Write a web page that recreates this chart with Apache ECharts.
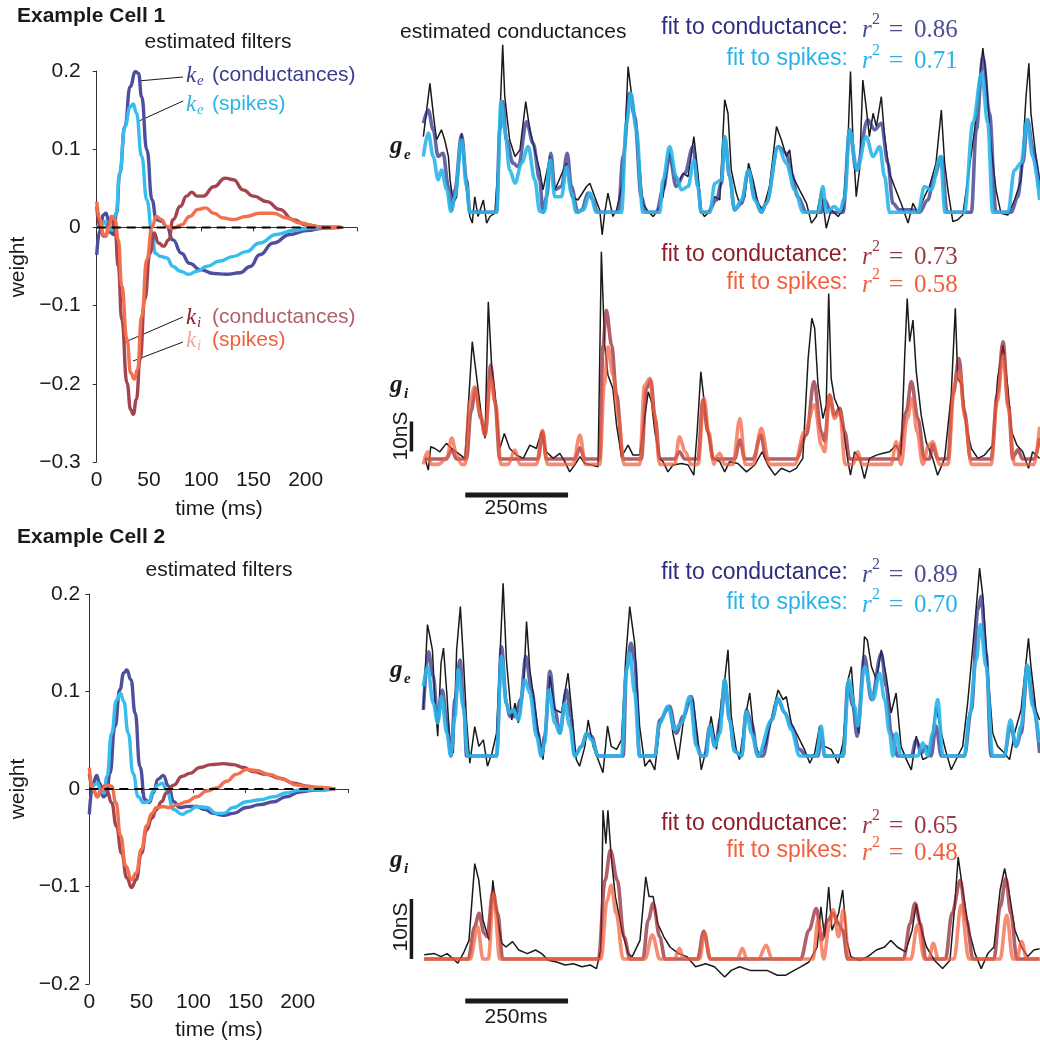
<!DOCTYPE html>
<html>
<head>
<meta charset="utf-8">
<script src="https://cdn.jsdelivr.net/npm/echarts@6/dist/echarts.min.js"></script>
<style>
html,body{margin:0;padding:0;background:#fff}
#chart{width:1040px;height:1044px}
</style>
</head>
<body>
<div id="chart"></div>
<script>
// ---- estimated filters, [time ms, weight] ----
var cell1KeCond = [[0,-0.035],[3.2,-0.003],[6.4,0.016],[8.9,0.018],[11.2,0.010],[13.7,-0.007],[16,-0.009],[19,0.018],[22,0.069],[27,0.129],[32,0.180],[37,0.199],[40,0.197],[43,0.167],[48,0.099],[53,0.035],[57,0.010],[62,0.008],[67,0.001],[73,-0.016],[81,-0.033],[89,-0.046],[99,-0.054],[112,-0.059],[124,-0.060],[137,-0.058],[147,-0.050],[156,-0.035],[169,-0.020],[185,-0.009],[201,-0.004],[217,-0.001],[234,0]];
var cell1KeSpk = [[0,0],[4.8,0.003],[8,0.008],[10,0.001],[13,-0.003],[15,-0.003],[18.5,0.018],[22,0.069],[27,0.129],[32,0.154],[35,0.158],[38,0.146],[43,0.091],[48,0.035],[53,-0.007],[56,-0.033],[61,-0.037],[67,-0.039],[73,-0.050],[80,-0.056],[88,-0.060],[96,-0.056],[105,-0.050],[118,-0.043],[131,-0.037],[143,-0.031],[156,-0.020],[172,-0.009],[188,-0.004],[204,-0.001],[234,0]];
var cell1KiCond = [[0,0.027],[3.2,0.001],[6.4,-0.011],[8.9,-0.011],[11.8,0.006],[14.4,0.014],[17.5,-0.003],[20.7,-0.050],[24,-0.118],[29,-0.199],[32.5,-0.233],[35,-0.239],[38,-0.220],[41.5,-0.169],[46,-0.092],[51,-0.033],[55,-0.007],[59,-0.020],[64,-0.024],[69,-0.016],[73,0.010],[80,0.027],[86,0.040],[91,0.045],[96,0.040],[102,0.040],[112,0.052],[123,0.063],[131,0.061],[140,0.048],[150,0.040],[163,0.033],[175,0.023],[188,0.010],[201,0.003],[217,0.0004],[234,0]];
var cell1KiSpk = [[0,0.033],[3.2,0.010],[6.4,-0.009],[8.9,-0.011],[11.8,0.001],[14.4,0.014],[17.5,0.010],[20.7,-0.016],[24,-0.075],[29,-0.143],[32.5,-0.186],[36,-0.194],[39,-0.182],[43,-0.114],[48,-0.041],[53,0.001],[57,0.014],[62,0.010],[67,0.001],[73,-0.001],[81,0.003],[89,0.014],[97,0.023],[104,0.025],[112,0.018],[121,0.012],[131,0.010],[143,0.014],[156,0.018],[169,0.018],[182,0.012],[194,0.006],[211,0.001],[234,0]];

var cell2KeCond = [[0,-0.026],[3.2,0.003],[7,0.014],[10,0.006],[13.4,-0.008],[16.6,-0.006],[19.8,0.016],[24.6,0.064],[29.4,0.102],[33,0.119],[36,0.122],[40,0.112],[44,0.078],[48.6,0.023],[53.4,-0.011],[57.6,-0.014],[61.4,-0.004],[66,0.010],[71,0.014],[76,0.003],[81,-0.013],[87,-0.019],[93.4,-0.018],[103,-0.018],[111,-0.021],[119,-0.025],[129,-0.027],[138,-0.025],[151,-0.019],[164,-0.016],[177,-0.013],[189,-0.008],[202,-0.003],[218,-0.001],[236,0]];
var cell2KeSpk = [[0,0.003],[3.8,0.004],[7.7,0.006],[11,-0.002],[14,-0.004],[17,0.013],[21.4,0.057],[26,0.091],[30,0.098],[33,0.090],[37.4,0.057],[42,0.016],[47,-0.008],[52,-0.014],[57,-0.013],[61.4,-0.002],[66,0.004],[70,0.006],[74,-0.001],[81,-0.021],[89,-0.026],[95,-0.023],[103,-0.018],[113,-0.019],[122,-0.025],[129,-0.025],[138,-0.019],[151,-0.013],[164,-0.011],[177,-0.008],[189,-0.004],[202,-0.001],[236,0]];
var cell2KiCond = [[0,0.016],[3.8,-0.001],[7.7,-0.008],[11,-0.002],[14,0.003],[17,-0.002],[21.4,-0.014],[26,-0.038],[31,-0.066],[36,-0.091],[40.6,-0.101],[45,-0.093],[50,-0.066],[55,-0.042],[60,-0.030],[64.6,-0.021],[69.4,-0.013],[74,-0.004],[81,0.004],[89,0.013],[96.6,0.016],[106,0.022],[117,0.025],[129,0.026],[138,0.025],[148,0.022],[157,0.018],[170,0.015],[183,0.011],[196,0.006],[209,0.003],[221,0.001],[236,0]];
var cell2KiSpk = [[0,0.022],[3.8,-0.001],[7.7,-0.008],[12,-0.001],[16.6,0.004],[21.4,0.003],[25.6,-0.014],[30,-0.048],[35,-0.079],[40.6,-0.093],[45,-0.086],[50,-0.062],[55,-0.038],[60,-0.025],[64.6,-0.019],[71,-0.018],[77,-0.019],[85,-0.016],[93.4,-0.013],[103,-0.008],[113,-0.002],[122,0.001],[132,0.008],[141,0.015],[151,0.020],[160,0.019],[173,0.015],[186,0.010],[199,0.004],[212,0.002],[236,0]];
var zeroLine = [[0,0],[236,0]];

// ---- estimated conductances, [time ms, nS] ----
var cell1GeRec = [[0,25.2],[16,43.0],[24,33.0],[32,24.1],[44,27.5],[52,24.1],[61,18.6],[65,10.8],[73,3.0],[81,5.2],[93,26.4],[105,7.5],[113,-1.4],[119,-3.6],[125,5.2],[133,-1.4],[146,4.1],[154,-3.6],[162,-1.4],[174,-0.3],[182,16.4],[193,55.8],[198,38.6],[210,24.1],[223,18.6],[235,20.8],[249,36.9],[259,27.5],[271,20.8],[283,14.1],[291,7.5],[308,18.6],[320,7.5],[348,16.4],[360,5.2],[376,4.1],[397,8.6],[405,9.7],[417,5.2],[429,0.8],[435,-7.5],[441,-0.3],[449,6.4],[461,-1.4],[470,0.8],[486,10.8],[498,48.6],[506,39.7],[514,33.0],[526,16.4],[534,3.0],[547,0.2],[559,-1.4],[571,0.8],[583,5.2],[599,20.8],[607,14.1],[620,9.7],[632,13.0],[644,11.9],[658,25.2],[668,13.0],[676,0.2],[684,-1.4],[692,-0.3],[709,5.2],[721,4.1],[733,37.5],[741,33.0],[749,14.1],[761,6.4],[769,3.0],[782,5.2],[791,16.4],[802,10.8],[814,3.0],[826,0.8],[842,8.6],[859,28.6],[871,24.1],[883,18.6],[891,20.8],[899,11.9],[915,7.5],[932,3.0],[944,-3.6],[956,-1.4],[968,7.5],[980,-5.3],[992,0.8],[1009,-1.4],[1021,0.8],[1033,24.1],[1039,46.9],[1045,24.1],[1053,5.2],[1061,14.1],[1069,44.1],[1077,35.2],[1085,25.2],[1094,33.0],[1102,28.6],[1114,38.6],[1122,25.2],[1134,13.0],[1146,8.6],[1162,3.0],[1179,-3.6],[1191,3.0],[1203,-0.3],[1219,5.2],[1231,8.6],[1247,16.4],[1260,34.1],[1268,16.4],[1276,7.5],[1288,-3.1],[1300,-2.5],[1312,-0.9],[1324,10.8],[1341,27.5],[1353,44.1],[1361,54.7],[1369,45.2],[1381,22.0],[1393,7.5],[1405,-0.3],[1422,-0.9],[1438,4.1],[1454,10.8],[1466,38.6],[1473,49.7],[1478,33.0],[1490,18.6],[1499,10.8]];
var cell1GeFitCond = [[0,29.7],[12,34.1],[24,27.5],[36,18.6],[48,19.7],[61,8.6],[69,0.8],[77,7.5],[93,25.8],[105,10.8],[113,0],[178,0],[186,27.5],[193,36.9],[202,24.1],[218,16.4],[231,15.2],[251,30.2],[267,23.0],[283,10.8],[291,0],[300,5.2],[310,19.7],[320,7.5],[336,8.6],[350,19.7],[360,8.6],[376,0],[385,0.8],[401,6.4],[413,4.1],[423,0],[474,0],[486,18.6],[502,39.7],[514,31.9],[530,5.2],[542,0],[567,0],[583,7.5],[599,18.6],[615,8.6],[636,13.0],[656,21.9],[668,8.6],[676,0],[692,0],[713,4.1],[725,9.7],[733,25.2],[745,11.9],[757,0.8],[774,3.0],[791,14.1],[806,5.2],[822,0],[834,3.0],[863,21.9],[883,19.7],[895,13.0],[911,5.2],[932,0],[968,0],[976,4.1],[992,0],[1021,0],[1037,27.5],[1053,14.1],[1081,30.8],[1098,27.5],[1114,29.7],[1130,16.4],[1142,3.0],[1158,0.8],[1187,0.8],[1207,0],[1227,4.1],[1243,11.9],[1260,18.6],[1274,0],[1333,0],[1345,27.5],[1361,51.9],[1377,33.0],[1393,0],[1430,0],[1446,5.2],[1458,16.4],[1470,30.8],[1482,21.9],[1499,7.5]];
var cell1GeFitSpk = [[0,18.6],[12,26.4],[24,18.6],[36,10.8],[44,14.1],[57,7.5],[67,0.3],[77,5.2],[93,24.1],[105,8.6],[113,0],[178,0],[189,36.9],[198,27.5],[210,14.1],[223,9.7],[239,16.4],[255,21.9],[271,10.8],[283,0.3],[295,0.3],[308,17.5],[320,5.2],[336,5.2],[348,15.2],[360,6.4],[372,0],[389,0.8],[405,6.4],[421,0],[482,0],[494,29.7],[505,39.7],[518,27.5],[534,0],[575,0],[583,10.8],[599,21.9],[615,11.9],[628,7.5],[644,8.6],[658,17.5],[668,8.6],[676,0],[697,0],[709,9.7],[725,10.8],[733,25.2],[745,11.9],[757,0.8],[774,4.1],[791,14.1],[806,4.1],[822,0],[834,3.0],[863,21.9],[883,16.4],[903,7.5],[924,0],[960,0],[972,8.6],[980,0],[1000,1.9],[1013,0.3],[1025,5.2],[1037,27.5],[1055,14.1],[1077,25.2],[1094,18.6],[1110,21.9],[1122,11.9],[1134,0],[1203,0],[1219,8.6],[1235,7.5],[1258,18.6],[1269,0],[1316,0],[1337,29.9],[1358,46.4],[1373,29.7],[1385,0],[1422,0],[1438,14.1],[1454,16.4],[1469,30.8],[1482,18.6],[1499,4.1]];

var cell1GiRec = [[4,0.2],[12,-3.7],[18,4.1],[28,3.5],[40,2.4],[56,5.2],[69,3.5],[85,1.9],[101,0.2],[111,21.3],[119,39.1],[125,32.4],[132,24.6],[142,13.5],[150,6.9],[158,52.4],[166,31.3],[174,22.4],[186,3.5],[197,8.5],[210,3.5],[227,1.3],[243,0.2],[259,4.6],[275,3.5],[287,9.1],[299,2.4],[316,0.2],[332,1.9],[344,-0.9],[356,-4.3],[368,-2.0],[381,0.8],[393,-1.5],[409,-2.0],[425,-2.6],[433,69.1],[441,38.0],[449,28.0],[461,23.5],[470,11.3],[482,0.8],[498,4.6],[510,1.3],[526,1.3],[538,13.5],[547,22.4],[555,19.1],[563,9.1],[575,0.2],[583,-0.9],[595,-4.3],[607,-2.0],[628,-1.5],[644,-2.0],[658,-5.4],[666,9.1],[675,29.1],[683,19.1],[692,9.1],[705,0.2],[721,-0.9],[733,-4.3],[745,-0.9],[765,-1.5],[786,-4.3],[806,-2.0],[824,2.4],[838,-2.0],[855,-5.4],[871,-3.1],[891,-4.3],[907,-3.1],[923,0.2],[936,33.5],[945,46.9],[952,43.5],[960,24.6],[972,13.5],[980,17.9],[986,55.2],[992,26.9],[1000,20.2],[1010,16.9],[1021,10.2],[1033,-0.9],[1039,-5.4],[1049,2.4],[1061,0.2],[1073,-6.5],[1085,0.2],[1102,1.3],[1118,1.9],[1134,2.4],[1150,4.6],[1162,1.3],[1171,34.6],[1177,53.5],[1183,39.1],[1191,46.3],[1199,29.1],[1211,14.6],[1223,5.7],[1239,0.2],[1251,-5.4],[1268,0.2],[1284,21.3],[1294,50.2],[1300,26.9],[1310,24.6],[1320,11.3],[1333,3.5],[1349,0.2],[1365,1.3],[1385,4.6],[1397,26.9],[1410,38.0],[1422,23.5],[1431,9.1],[1444,4.6],[1458,2.4],[1472,-3.1],[1482,2.4],[1499,0.2]];
var cell1GiFitCond = [[4,0],[56,0],[69,3.1],[81,0],[105,0],[116,15.9],[127,23.5],[140,13.5],[150,8.0],[164,31.3],[174,19.1],[186,0],[279,0],[290,9.1],[299,0],[368,0],[381,3.7],[393,0],[429,0],[437,38.0],[445,49.6],[458,38.0],[470,21.3],[486,0],[530,0],[543,23.5],[553,26.3],[564,13.5],[575,0],[611,0],[623,2.4],[636,0],[668,0],[680,19.6],[692,9.1],[705,0],[757,0],[770,6.3],[782,0],[802,0],[821,8.0],[834,0],[907,0],[932,8.0],[950,25.8],[968,9.1],[976,6.0],[988,21.3],[1000,14.6],[1013,16.9],[1025,9.1],[1037,0],[1154,0],[1175,15.9],[1187,25.8],[1203,13.5],[1219,0],[1231,0],[1239,4.8],[1251,0],[1276,0],[1288,21.3],[1303,33.5],[1316,15.9],[1331,0],[1381,0],[1396,21.3],[1410,39.1],[1423,18.0],[1434,0],[1438,1.4],[1446,3.1],[1458,0],[1486,0],[1499,7.0]];
var cell1GiFitSpk = [[0,-1.8],[10,2.4],[20,-1.8],[36,-1.8],[57,0.3],[69,7.0],[81,1.3],[93,-1.8],[101,-1.8],[113,19.1],[125,24.1],[137,15.7],[150,8.0],[164,26.9],[176,18.0],[189,-1.8],[206,-1.8],[223,3.0],[235,-1.8],[275,-1.8],[290,9.6],[302,-1.8],[364,-1.8],[381,8.0],[394,-1.8],[429,-1.8],[440,24.6],[449,37.4],[461,28.0],[474,14.6],[488,-1.8],[526,-1.8],[538,24.6],[551,26.9],[561,15.7],[575,-1.8],[611,-1.8],[623,7.4],[637,2.4],[652,-1.8],[668,-1.8],[683,20.2],[694,9.1],[707,-1.8],[713,0.8],[721,1.9],[733,-1.8],[753,-1.8],[770,13.5],[783,-1.8],[802,-1.8],[822,10.2],[842,-1.8],[903,-1.8],[927,9.1],[952,18.0],[968,4.6],[976,2.4],[988,21.3],[1000,13.5],[1013,15.7],[1026,-1.8],[1045,-1.8],[1057,2.4],[1067,-1.8],[1138,-1.8],[1150,5.7],[1162,-1.8],[1177,13.5],[1189,20.2],[1201,9.1],[1215,-1.8],[1229,4.6],[1239,5.7],[1256,-1.8],[1276,-1.8],[1292,24.6],[1304,29.1],[1318,13.5],[1333,-1.8],[1381,-1.8],[1396,19.1],[1410,34.6],[1423,16.9],[1438,-1.8],[1486,-1.8],[1499,10.8]];

var cell2GeRec = [[0,7.7],[10,21.9],[16,19.9],[22,17.7],[28,9.4],[35,3.3],[43,15.5],[49,18.0],[57,10.5],[65,1.6],[73,0.5],[81,17.7],[90,24.9],[97,16.6],[105,6.0],[113,-1.2],[125,4.9],[135,1.6],[146,2.7],[156,-1.7],[167,0.5],[178,3.8],[186,16.0],[194,28.8],[202,16.0],[215,6.0],[223,8.8],[231,5.5],[243,10.5],[251,22.4],[259,14.4],[267,10.5],[279,4.4],[291,-0.6],[300,6.0],[308,13.3],[320,7.7],[336,7.2],[352,13.8],[362,6.6],[372,-0.6],[380,-1.7],[393,1.6],[401,6.0],[413,1.6],[425,-0.6],[437,-2.8],[448,5.0],[457,1.6],[470,1.1],[482,2.7],[492,16.0],[502,24.9],[514,18.8],[526,5.0],[539,-1.7],[551,-0.6],[563,-2.3],[575,5.0],[587,7.2],[599,8.3],[607,3.8],[620,-0.6],[632,5.5],[644,8.8],[656,9.4],[667,3.3],[676,-2.3],[688,1.1],[700,6.6],[713,1.1],[725,9.4],[733,12.7],[741,17.7],[749,6.6],[761,1.1],[769,-0.6],[782,6.0],[794,10.5],[806,2.2],[818,0],[834,2.2],[851,7.7],[863,11.0],[875,9.4],[883,9.9],[895,5.5],[911,3.3],[927,1.1],[940,-1.2],[952,0.5],[964,5.0],[976,1.6],[992,1.1],[1009,-1.2],[1021,2.2],[1033,12.7],[1041,14.9],[1049,7.7],[1059,3.8],[1073,19.9],[1080,19.3],[1090,14.9],[1102,12.7],[1114,17.7],[1126,13.3],[1138,7.2],[1150,10.5],[1162,1.6],[1175,-0.6],[1187,-2.3],[1199,3.3],[1215,-0.6],[1231,0],[1247,8.3],[1260,3.8],[1272,0.5],[1284,-2.3],[1300,0],[1312,1.6],[1324,8.8],[1341,21.6],[1353,31.3],[1361,26.6],[1373,14.4],[1385,3.8],[1397,1.6],[1413,0.5],[1426,-0.6],[1438,3.8],[1454,7.7],[1472,19.6],[1478,14.9],[1490,7.7],[1499,6.0]];
var cell2GeFitCond = [[0,7.7],[12,17.4],[24,13.3],[35,6.0],[46,11.0],[57,6.0],[67,0],[77,9.4],[89,16.0],[99,7.7],[105,0],[178,0],[190,18.2],[202,8.8],[210,6.6],[223,6.6],[237,9.4],[249,16.6],[263,11.1],[279,3.8],[287,0],[295,3.3],[308,14.1],[320,7.7],[332,3.8],[348,11.0],[359,6.6],[368,0],[385,1.6],[397,3.8],[409,3.3],[425,0],[486,0],[494,14.4],[505,18.8],[514,16.0],[526,0],[563,0],[575,6.0],[599,8.3],[615,3.8],[632,6.6],[652,9.9],[667,1.6],[675,0],[684,0],[697,5.0],[709,1.6],[725,6.6],[733,12.7],[745,6.0],[757,0.8],[774,0],[786,7.7],[798,5.5],[814,0],[826,0],[847,6.0],[863,9.4],[879,7.2],[895,5.0],[915,1.1],[932,0],[960,0],[968,3.8],[976,0],[1021,0],[1033,12.2],[1045,8.3],[1055,3.3],[1073,16.6],[1090,9.4],[1114,17.1],[1126,11.6],[1138,3.8],[1154,0],[1187,0],[1199,2.7],[1211,0.5],[1223,1.6],[1235,0],[1247,5.0],[1260,0],[1316,0],[1333,7.7],[1349,24.4],[1357,26.6],[1369,17.1],[1381,0],[1413,0],[1428,5.0],[1442,1.6],[1454,3.8],[1470,14.9],[1482,9.4],[1499,0.5]];
var cell2GeFitSpk = [[0,11.6],[10,14.9],[24,8.8],[35,5.5],[44,9.9],[57,3.8],[67,0],[77,6.6],[85,14.4],[97,8.3],[108,0],[178,0],[190,16.6],[202,8.8],[210,7.2],[219,7.7],[231,6.0],[247,12.7],[259,10.5],[275,3.3],[287,0],[295,2.2],[305,11.0],[320,5.5],[332,3.8],[344,8.8],[356,5.0],[368,0],[385,1.6],[397,3.8],[409,2.7],[425,0],[482,0],[494,14.4],[502,17.1],[514,10.5],[526,0],[563,0],[575,5.5],[595,8.3],[611,4.4],[628,5.5],[648,9.9],[664,1.6],[675,0],[688,0],[697,5.0],[709,1.6],[721,3.8],[733,12.7],[745,6.0],[757,0.8],[774,0],[786,7.4],[798,3.8],[814,0],[847,6.0],[863,9.6],[879,7.2],[895,4.4],[915,0],[956,0],[968,5.0],[976,0],[1021,0],[1035,12.7],[1049,8.3],[1057,5.0],[1073,14.9],[1094,9.4],[1110,13.8],[1122,9.4],[1134,3.8],[1142,0],[1150,3.8],[1162,0],[1203,0],[1215,2.2],[1227,0],[1239,3.8],[1251,9.4],[1264,0],[1316,0],[1328,6.6],[1345,16.0],[1355,21.9],[1369,14.9],[1385,0],[1413,0],[1428,6.0],[1442,1.6],[1454,5.0],[1469,15.2],[1482,8.3],[1499,2.2]];

var cell2GiRec = [[2,0.7],[27,0.9],[43,0.4],[58,0.9],[84,-0.7],[99,1.2],[111,3.1],[125,15.9],[135,13.1],[145,6.5],[160,3.1],[169,13.1],[181,6.5],[191,2.6],[201,2.0],[217,2.9],[232,1.5],[253,0.9],[273,1.5],[288,0.9],[304,-0.2],[324,-0.5],[345,-1.0],[365,-0.8],[386,-1.3],[406,-1.0],[421,-1.6],[432,1.5],[437,24.8],[444,19.2],[449,24.8],[457,17.0],[467,10.4],[483,4.8],[498,0.9],[508,0.4],[527,3.1],[541,13.7],[549,10.4],[559,10.4],[570,5.9],[585,3.7],[600,2.0],[621,0.9],[641,0.4],[662,-1.3],[687,-0.8],[708,-1.3],[733,-3.0],[749,-1.9],[769,-1.3],[795,-1.9],[815,-1.9],[836,-1.9],[861,-2.7],[882,-2.7],[902,-1.9],[918,-1.3],[938,-0.5],[958,2.0],[967,8.7],[976,3.7],[986,12.0],[994,4.8],[1010,7.6],[1020,11.5],[1030,3.1],[1040,0.4],[1061,-0.2],[1081,0.4],[1102,1.5],[1122,2.0],[1137,3.1],[1153,2.0],[1173,1.2],[1189,4.8],[1199,9.2],[1209,5.4],[1224,2.0],[1243,-0.2],[1263,-1.6],[1281,-0.2],[1291,7.6],[1301,17.0],[1311,12.0],[1327,4.8],[1342,0.9],[1357,-1.6],[1373,0.9],[1388,2.0],[1403,11.5],[1414,15.1],[1424,11.5],[1439,4.8],[1455,2.0],[1470,0.4],[1485,1.5],[1499,1.7]];
var cell2GiFitCond = [[2,0],[109,0],[125,5.4],[135,7.6],[148,4.3],[155,3.7],[169,11.2],[181,7.6],[193,0],[426,0],[442,13.1],[455,18.1],[472,13.1],[488,3.7],[503,0],[534,0],[547,6.5],[559,9.3],[575,3.7],[588,0],[667,0],[682,4.6],[698,0],[918,0],[938,4.8],[956,8.4],[969,3.2],[984,6.5],[997,7.6],[1010,5.9],[1020,4.8],[1032,0],[1168,0],[1184,5.9],[1196,9.3],[1209,5.9],[1222,0],[1270,0],[1286,7.6],[1306,13.1],[1321,6.5],[1337,0],[1388,0],[1403,8.7],[1417,13.4],[1429,7.6],[1444,0],[1499,0]];
var cell2GiFitSpk = [[2,0],[114,0],[132,5.4],[145,0],[158,0],[171,10.9],[186,0],[432,0],[447,9.8],[457,12.3],[469,7.6],[486,0],[539,0],[557,4.0],[575,0],[611,0],[623,1.8],[633,0],[672,0],[684,4.3],[698,0],[764,0],[776,1.8],[787,0],[815,0],[834,2.3],[848,0],[948,0],[960,6.5],[974,0],[987,5.4],[997,8.2],[1010,3.7],[1022,8.2],[1035,0],[1186,0],[1202,5.7],[1219,0],[1230,0],[1240,2.6],[1253,0],[1291,0],[1308,9.0],[1327,0],[1403,0],[1419,7.3],[1434,0],[1444,0],[1455,2.9],[1468,0],[1499,0]];

// scale bars: 10 nS and 250 ms
var cell1BarNs = [[-29,2.5],[-29,12.5]];
var cell1BarMs = [[102,-12],[352,-12]];
var cell2BarNs = [[-29,0],[-29,10]];
var cell2BarMs = [[102,-7],[352,-7]];

var sans = "'Liberation Sans', Arial, sans-serif";
var serif = "'Liberation Serif', 'Times New Roman', serif";
var ink = '#1a1a1a';
var cKeCond = '#4e4f9c', cKeSpk = '#35bdee', cKiCond = '#a4444f', cKiSpk = '#f2704e';

function txt(x, y, s, size, color, o) {
  o = o || {};
  return {
    type: 'text', x: x, y: y, rotation: o.rot || 0, silent: true,
    style: {
      text: s, fill: color,
      font: (o.style || 'normal') + ' ' + (o.weight || 'normal') + ' ' + size + 'px ' + (o.family || sans),
      align: o.align || 'left', verticalAlign: 'middle'
    }
  };
}
function seg(x1, y1, x2, y2, w) {
  return {type: 'line', silent: true, shape: {x1: x1, y1: y1, x2: x2, y2: y2}, style: {stroke: ink, lineWidth: w || 1}};
}
function kLabel(y, sub, rest, ck, cr) {
  return [
    txt(186, y + 1, 'k', 23, ck, {style: 'italic', family: serif}),
    txt(197, y + 6, sub, 15, ck, {style: 'italic', family: serif}),
    txt(212, y, rest, 21, cr)
  ];
}
function fitLabel(y, name, val, ct, cr) {
  return [
    txt(848, y, name, 23, ct, {align: 'right'}),
    txt(862, y + 2, 'r', 25, cr, {style: 'italic', family: serif}),
    txt(872, y - 8, '2', 16, cr, {family: serif}),
    txt(896, y + 2, '=', 26, cr, {family: serif, align: 'center'}),
    txt(914, y + 2, val, 25, cr, {family: serif})
  ];
}
function gLabel(y, sub) {
  return [
    txt(390, y, 'g', 25, ink, {style: 'italic', weight: 'bold', family: serif}),
    txt(404, y + 8, sub, 15, ink, {style: 'italic', weight: 'bold', family: serif})
  ];
}

function fmtW(v) {
  if (Math.abs(v) < 1e-9) return '0';
  return (v < 0 ? '\u2212' : '') + Math.abs(v).toFixed(1);
}
function filterX(idx) {
  return {
    type: 'value', gridIndex: idx, min: 0, max: 249, interval: 50,
    axisLine: {lineStyle: {color: '#333', width: 1}},
    axisTick: {inside: false, length: 4, lineStyle: {color: '#333'}},
    splitLine: {show: false},
    axisLabel: {color: ink, fontSize: 21, fontFamily: sans, margin: 8,
      formatter: function (v) { return v > 200 ? '' : String(v); }}
  };
}
function filterY(idx, min, max, margin) {
  return {
    type: 'value', gridIndex: idx, min: min, max: max, interval: 0.1,
    axisLine: {show: true, lineStyle: {color: '#333', width: 1}},
    axisTick: {show: true, inside: false, length: 4, lineStyle: {color: '#333'}},
    splitLine: {show: false},
    axisLabel: {color: ink, fontSize: 21, fontFamily: sans, margin: margin, formatter: fmtW}
  };
}
function hiddenX(idx) {
  return {type: 'value', gridIndex: idx, min: -50, max: 1500, show: false};
}
function hiddenY(idx, min, max) {
  return {type: 'value', gridIndex: idx, min: min, max: max, show: false};
}
function curve(idx, data, color, width, opacity, smooth) {
  return {
    type: 'line', xAxisIndex: idx, yAxisIndex: idx, data: data,
    showSymbol: false, smooth: smooth, smoothMonotone: 'x', silent: true,
    lineStyle: {color: color, width: width, opacity: opacity}
  };
}
function dashed(idx) {
  return {
    type: 'line', xAxisIndex: idx, yAxisIndex: idx, data: zeroLine, showSymbol: false, silent: true, z: 5,
    lineStyle: {color: '#000', width: 2, type: [9, 6]}
  };
}

var graphics = [].concat(
  [
    txt(17, 16, 'Example Cell 1', 21, ink, {weight: 'bold'}),
    txt(218, 42, 'estimated filters', 21, ink, {align: 'center'}),
    txt(18, 267, 'weight', 21, ink, {align: 'center', rot: Math.PI / 2}),
    txt(219, 509, 'time (ms)', 21, ink, {align: 'center'}),
    txt(17, 537, 'Example Cell 2', 21, ink, {weight: 'bold'}),
    txt(219, 570, 'estimated filters', 21, ink, {align: 'center'}),
    txt(18, 789, 'weight', 21, ink, {align: 'center', rot: Math.PI / 2}),
    txt(219, 1030, 'time (ms)', 21, ink, {align: 'center'}),
    txt(400, 32, 'estimated conductances', 21, ink),
    seg(138, 81, 183, 77), seg(139, 121, 183, 101), seg(123, 343, 183, 317), seg(133, 361, 183, 342),
    txt(401, 436, '10nS', 21, ink, {align: 'center', rot: Math.PI / 2}),
    txt(516, 508, '250ms', 21, ink, {align: 'center'}),
    txt(401, 927, '10nS', 21, ink, {align: 'center', rot: Math.PI / 2}),
    txt(516, 1017, '250ms', 21, ink, {align: 'center'})
  ],
  kLabel(75, 'e', '(conductances)', '#3b3c8e', '#3b3c8e'),
  kLabel(104, 'e', '(spikes)', '#2ab5e8', '#2ab5e8'),
  kLabel(317, 'i', '(conductances)', '#8e1f2b', '#b0606a'),
  kLabel(340, 'i', '(spikes)', '#f7a58e', '#f05f3e'),
  fitLabel(28, 'fit to conductance:', '0.86', '#2d2e7e', '#4c4d92'),
  fitLabel(59, 'fit to spikes:', '0.71', '#29b3e8', '#29b3e8'),
  fitLabel(255, 'fit to conductance:', '0.73', '#8d1d27', '#9a3b45'),
  fitLabel(283, 'fit to spikes:', '0.58', '#f2603e', '#f2603e'),
  fitLabel(573, 'fit to conductance:', '0.89', '#2d2e7e', '#4c4d92'),
  fitLabel(603, 'fit to spikes:', '0.70', '#29b3e8', '#29b3e8'),
  fitLabel(824, 'fit to conductance:', '0.65', '#8d1d27', '#9a3b45'),
  fitLabel(851, 'fit to spikes:', '0.48', '#f2603e', '#f2603e'),
  gLabel(147, 'e'), gLabel(386, 'i'), gLabel(671, 'e'), gLabel(861, 'i')
);

var option = {
  animation: false,
  backgroundColor: '#fff',
  grid: [
    {left: 96.7, top: 71, width: 260.2, height: 391},
    {left: 89.3, top: 594, width: 259.4, height: 390},
    {left: 402.8, top: 32.3, width: 637.7, height: 210},
    {left: 402.8, top: 243, width: 637.7, height: 261},
    {left: 402.8, top: 558, width: 637.7, height: 228},
    {left: 402.8, top: 803, width: 637.7, height: 204}
  ],
  xAxis: [filterX(0), filterX(1), hiddenX(2), hiddenX(3), hiddenX(4), hiddenX(5)],
  yAxis: [filterY(0, -0.3, 0.2, 16), filterY(1, -0.2, 0.2, 9),
    hiddenY(2, -10, 60), hiddenY(3, -15, 72), hiddenY(4, -5, 33), hiddenY(5, -8, 26)],
  series: [
    curve(0, cell1KeCond, cKeCond, 3.4, 1, 0.5),
    curve(0, cell1KeSpk, cKeSpk, 3.4, 1, 0.5),
    curve(0, cell1KiCond, cKiCond, 3.4, 1, 0.5),
    curve(0, cell1KiSpk, cKiSpk, 3.4, 1, 0.5),
    dashed(0),
    curve(1, cell2KeCond, cKeCond, 3.4, 1, 0.5),
    curve(1, cell2KeSpk, cKeSpk, 3.4, 1, 0.5),
    curve(1, cell2KiCond, cKiCond, 3.4, 1, 0.5),
    curve(1, cell2KiSpk, cKiSpk, 3.4, 1, 0.5),
    dashed(1),

    curve(2, cell1GeRec, ink, 1.5, 1, false),
    curve(2, cell1GeFitCond, '#2a2c82', 3.6, 0.72, 0.35),
    curve(2, cell1GeFitSpk, '#2cb6ea', 3.6, 0.9, 0.35),

    curve(3, cell1GiRec, ink, 1.5, 1, false),
    curve(3, cell1GiFitCond, '#8e1c28', 3.6, 0.7, 0.35),
    curve(3, cell1GiFitSpk, '#f2603e', 3.6, 0.72, 0.35),
    curve(3, cell1BarNs, ink, 3.5, 1, false),
    curve(3, cell1BarMs, ink, 5, 1, false),

    curve(4, cell2GeRec, ink, 1.5, 1, false),
    curve(4, cell2GeFitCond, '#2a2c82', 3.6, 0.72, 0.35),
    curve(4, cell2GeFitSpk, '#2cb6ea', 3.6, 0.9, 0.35),

    curve(5, cell2GiRec, ink, 1.5, 1, false),
    curve(5, cell2GiFitCond, '#8e1c28', 3.6, 0.7, 0.35),
    curve(5, cell2GiFitSpk, '#f2603e', 3.6, 0.72, 0.35),
    curve(5, cell2BarNs, ink, 3.5, 1, false),
    curve(5, cell2BarMs, ink, 5, 1, false)
  ],
  graphic: graphics
};

var chart = echarts.init(document.getElementById('chart'));
chart.setOption(option);
</script>
</body>
</html>
